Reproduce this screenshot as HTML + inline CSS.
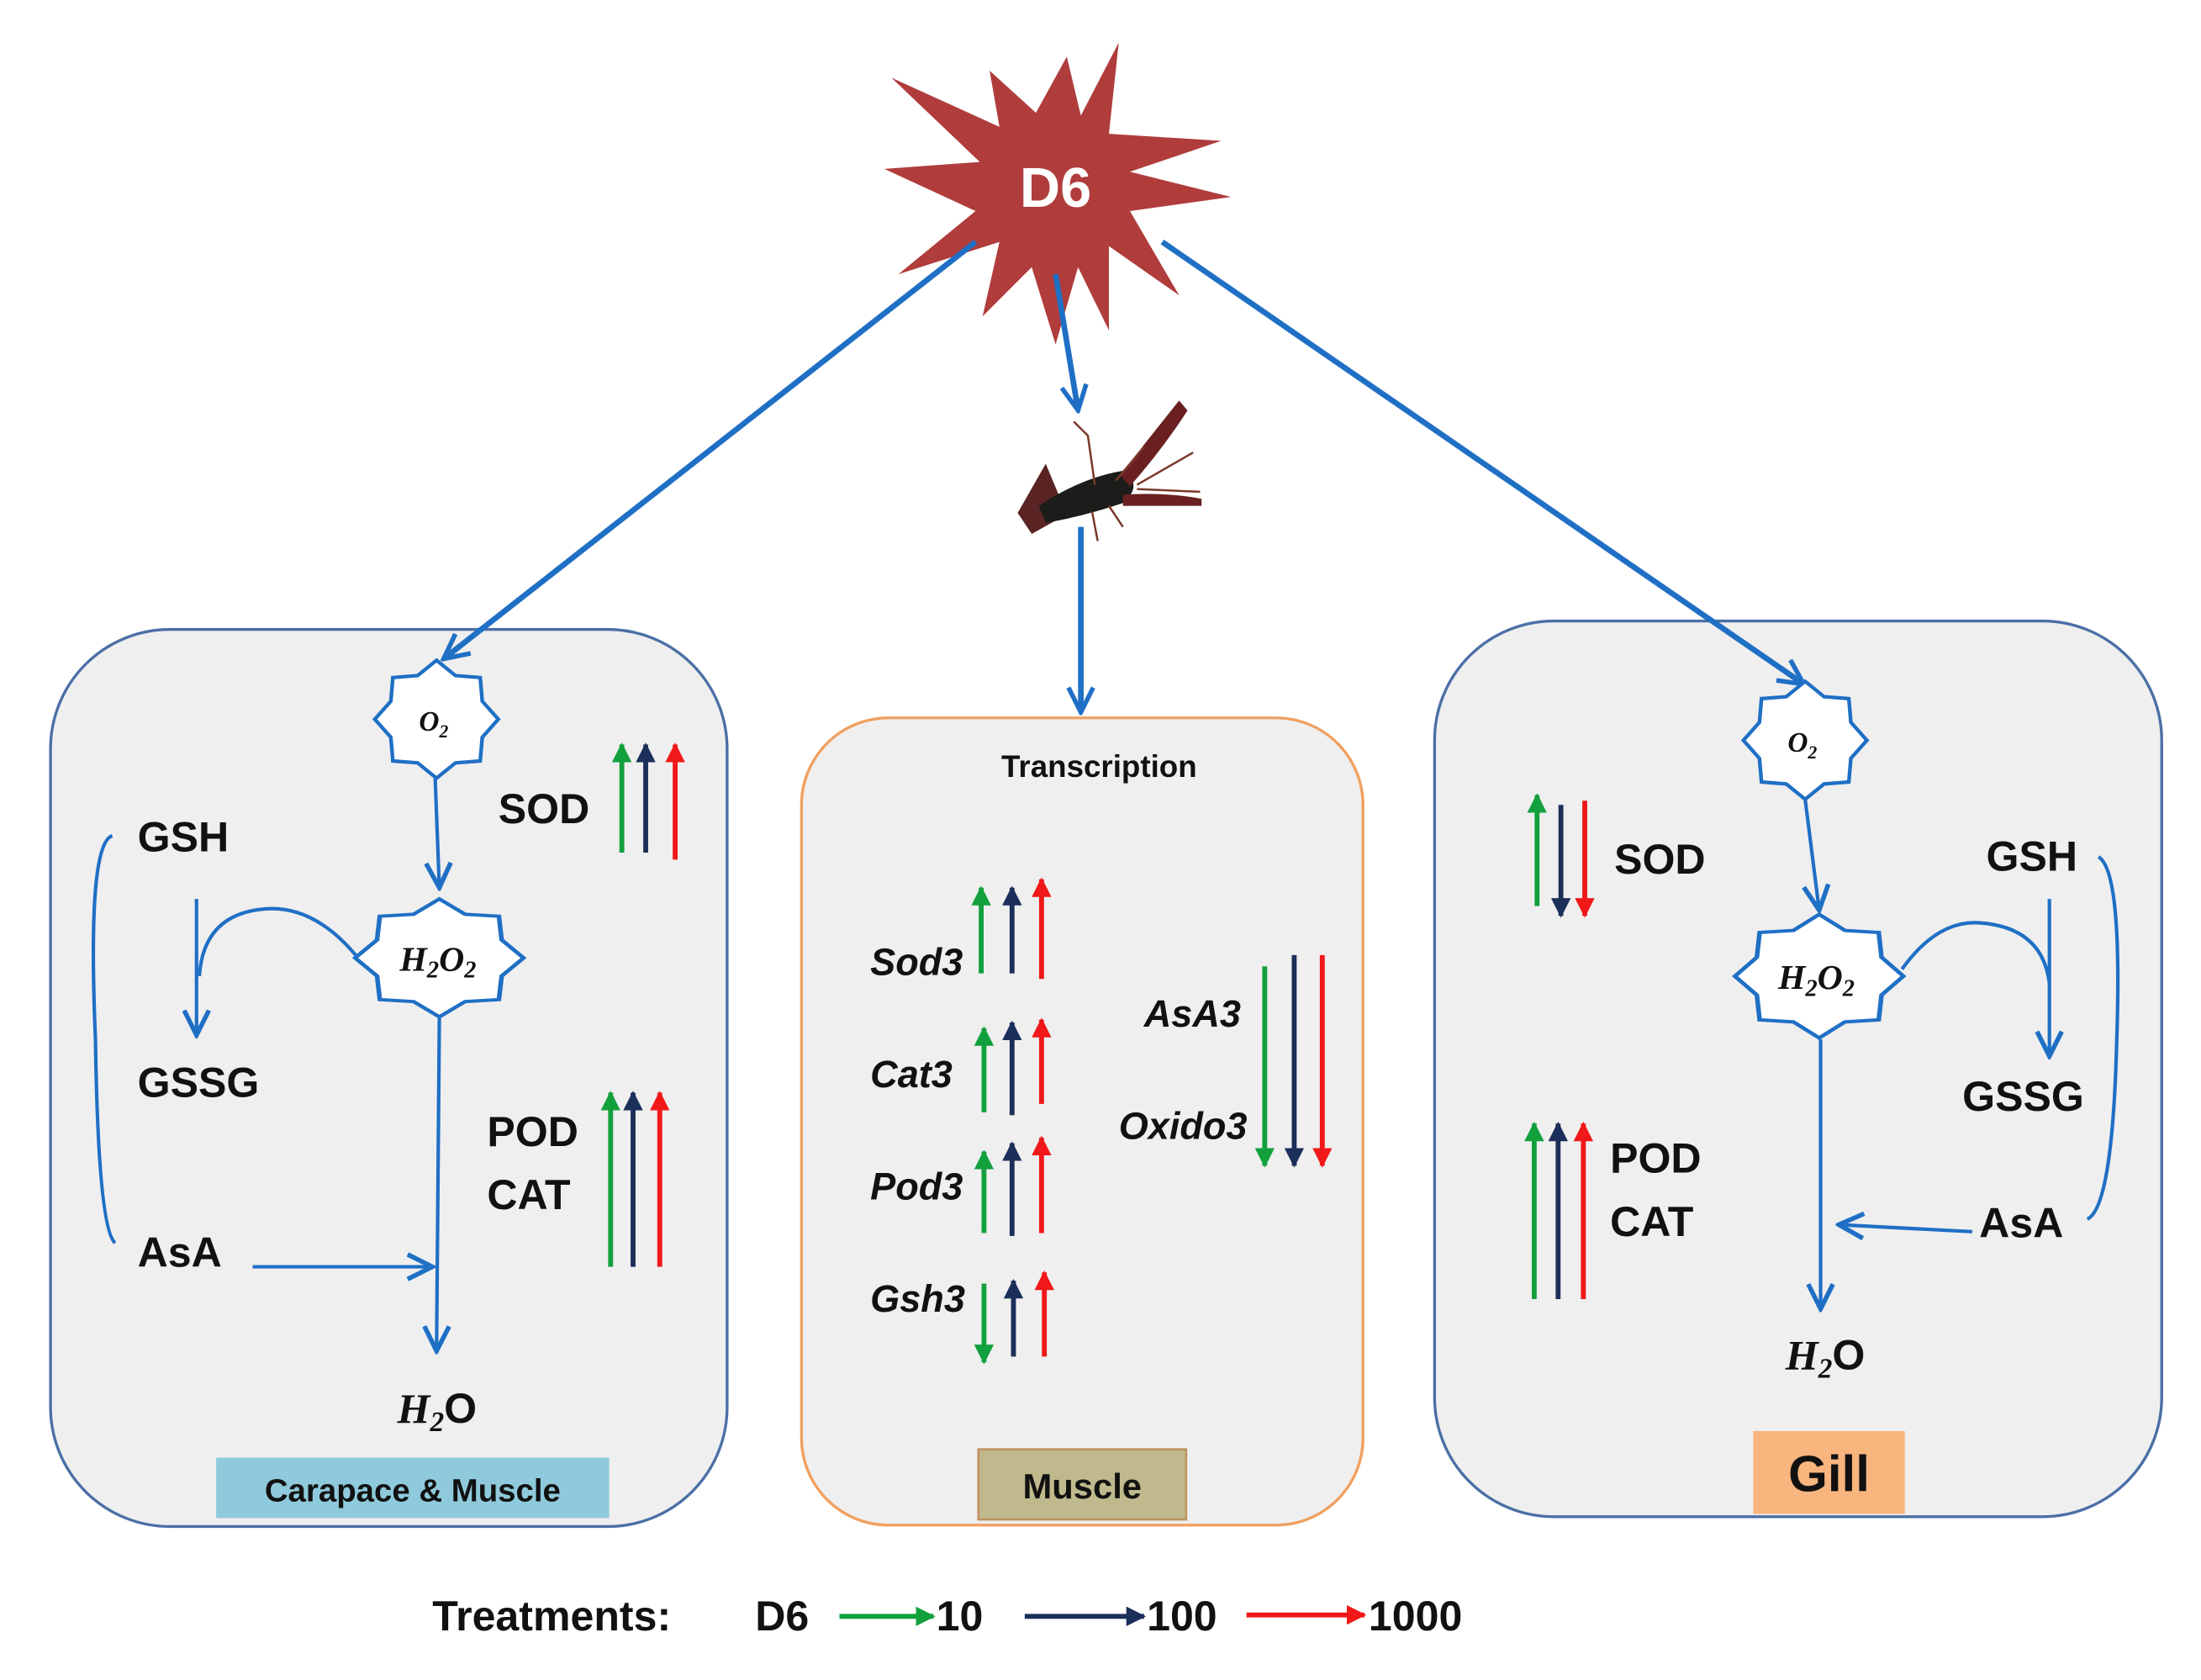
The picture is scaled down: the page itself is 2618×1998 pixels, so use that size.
<!DOCTYPE html>
<html><head><meta charset="utf-8"><style>
html,body{margin:0;padding:0;background:#fff}
svg{display:block}
text{font-family:"Liberation Sans",sans-serif;font-weight:bold;fill:#111}
.m{font-family:"Liberation Serif",serif;font-style:italic;font-weight:bold}
</style></head><body>
<svg width="2618" height="1998" viewBox="0 0 1568 1196" xmlns="http://www.w3.org/2000/svg">
<defs>
<marker id="b" viewBox="0 0 20 20" refX="18" refY="10" markerWidth="22" markerHeight="22" orient="auto" markerUnits="userSpaceOnUse"><path d="M2 2 L18 10 L2 18" fill="none" stroke="#1f6fc5" stroke-width="3"/></marker>
<marker id="g" viewBox="0 0 10 10" refX="9" refY="5" markerWidth="14" markerHeight="14" orient="auto" markerUnits="userSpaceOnUse"><path d="M0 0 L10 5 L0 10 Z" fill="#12a03c"/></marker>
<marker id="n" viewBox="0 0 10 10" refX="9" refY="5" markerWidth="14" markerHeight="14" orient="auto" markerUnits="userSpaceOnUse"><path d="M0 0 L10 5 L0 10 Z" fill="#1b2f5a"/></marker>
<marker id="r" viewBox="0 0 10 10" refX="9" refY="5" markerWidth="14" markerHeight="14" orient="auto" markerUnits="userSpaceOnUse"><path d="M0 0 L10 5 L0 10 Z" fill="#f01818"/></marker>
<polygon id="st" points="1,0 0.74,0.306 0.707,0.707 0.306,0.74 0,1 -0.306,0.74 -0.707,0.707 -0.74,0.306 -1,0 -0.74,-0.306 -0.707,-0.707 -0.306,-0.74 0,-1 0.306,-0.74 0.707,-0.707 0.74,-0.306"/>
</defs>

<rect x="36" y="448" width="482" height="639" rx="85" fill="#efefef" stroke="#4a6fa5" stroke-width="2"/>
<rect x="571" y="511" width="400" height="575" rx="62" fill="#efefef" stroke="#f0a060" stroke-width="2"/>
<rect x="1022" y="442" width="518" height="638" rx="85" fill="#efefef" stroke="#4a6fa5" stroke-width="2"/>

<polygon points="877,140 805,150 840,210 790,175 790,235 768,190 752,245 735,190 700,225 712,172 640,195 695,150 630,120 698,115 635,55 712,90 705,50 738,80 760,40 770,82 797,30 790,95 870,100 805,122" fill="#b03c3c"/>
<text x="752" y="147" font-size="40" text-anchor="middle" style="fill:#fff">D6</text>

<g stroke="#1f6fc5" stroke-width="4" fill="none">
<line x1="695" y1="172" x2="316" y2="469" marker-end="url(#b)"/>
<line x1="828" y1="172" x2="1285" y2="487" marker-end="url(#b)"/>
<line x1="752" y1="195" x2="768" y2="292" marker-end="url(#b)"/>
<line x1="770" y1="375" x2="770" y2="507" marker-end="url(#b)"/>
</g>

<g>
<path d="M745,330 L760,366 L735,380 L725,365 Z" fill="#5a2424"/>
<path d="M740,360 Q770,340 800,335 Q815,345 800,358 Q770,368 745,372 Z" fill="#1c1c1a"/>
<path d="M798,338 Q820,310 840,285 L846,292 Q828,320 805,346 Z" fill="#6a2020"/>
<path d="M800,352 Q830,350 856,355 L856,360 Q828,360 800,360 Z" fill="#6a2020"/>
<g stroke="#7a3a2a" stroke-width="1.5" fill="none">
<path d="M780,345 L775,310 L765,300"/><path d="M795,342 L815,318"/><path d="M790,360 L800,375"/><path d="M778,364 L782,385"/>
<path d="M810,345 L850,322"/><path d="M810,348 L855,350"/>
</g>
</g>

<g fill="#fff" stroke="#1f6fc5">
<use href="#st" transform="translate(311,512) scale(44,42)" style="stroke-width:0.06"/>
<use href="#st" transform="translate(313,682) scale(60,42)" style="stroke-width:0.055"/>
<use href="#st" transform="translate(1286,527) scale(44,42)" style="stroke-width:0.06"/>
<use href="#st" transform="translate(1296,695) scale(60,44)" style="stroke-width:0.055"/>
</g>
<g stroke="#1f6fc5" stroke-width="2.5" fill="none">
<line x1="310" y1="554" x2="313" y2="632" marker-end="url(#b)"/>
<line x1="313" y1="724" x2="311" y2="962" marker-end="url(#b)"/>
<path d="M255,682 Q225,645 190,647 Q145,650 142,695"/>
<line x1="140" y1="640" x2="140" y2="737" marker-end="url(#b)"/>
<path d="M80,595 Q62,600 68,740 Q70,875 82,885"/>
<line x1="180" y1="902" x2="308" y2="902" marker-end="url(#b)"/>
<line x1="1286" y1="569" x2="1296" y2="648" marker-end="url(#b)"/>
<line x1="1297" y1="740" x2="1297" y2="932" marker-end="url(#b)"/>
<path d="M1355,690 Q1380,655 1410,657 Q1455,660 1460,700"/>
<line x1="1460" y1="640" x2="1460" y2="752" marker-end="url(#b)"/>
<path d="M1495,610 Q1512,620 1508,740 Q1505,860 1487,868"/>
<line x1="1405" y1="877" x2="1310" y2="872" marker-end="url(#b)"/>
</g>
<text x="309" y="520" font-size="20" class="m" text-anchor="middle">O<tspan font-size="13" dy="5">2</tspan></text>
<text x="312" y="691" font-size="25" class="m" text-anchor="middle">H<tspan font-size="17" dy="5">2</tspan><tspan dy="-5">O</tspan><tspan font-size="17" dy="5">2</tspan></text>
<text x="1284" y="535" font-size="20" class="m" text-anchor="middle">O<tspan font-size="13" dy="5">2</tspan></text>
<text x="1294" y="704" font-size="25" class="m" text-anchor="middle">H<tspan font-size="17" dy="5">2</tspan><tspan dy="-5">O</tspan><tspan font-size="17" dy="5">2</tspan></text>

<g font-size="30">
<text x="98" y="606">GSH</text>
<text x="98" y="781">GSSG</text>
<text x="98" y="902">AsA</text>
<text x="355" y="586">SOD</text>
<text x="347" y="816">POD</text>
<text x="347" y="861">CAT</text>
<text x="1150" y="622">SOD</text>
<text x="1415" y="620">GSH</text>
<text x="1398" y="791">GSSG</text>
<text x="1147" y="835">POD</text>
<text x="1147" y="880">CAT</text>
<text x="1410" y="881">AsA</text>
</g>
<text x="283" y="1013" font-size="30" class="m">H<tspan font-size="20" dy="6">2</tspan><tspan dy="-6" style="font-family:'Liberation Sans';font-style:normal">O</tspan></text>
<text x="1272" y="975" font-size="30" class="m">H<tspan font-size="20" dy="6">2</tspan><tspan dy="-6" style="font-family:'Liberation Sans';font-style:normal">O</tspan></text>

<rect x="154" y="1038" width="280" height="43" fill="#8ecadb"/>
<text x="294" y="1069" font-size="23" text-anchor="middle">Carapace &amp; Muscle</text>
<rect x="697" y="1032" width="148" height="50" fill="#bfb98d" stroke="#c09060" stroke-width="1.5"/>
<text x="771" y="1067" font-size="25" text-anchor="middle">Muscle</text>
<rect x="1249" y="1019" width="108" height="59" fill="#f8b57e"/>
<text x="1303" y="1062" font-size="36" text-anchor="middle">Gill</text>

<text x="783" y="553" font-size="22" text-anchor="middle">Transcription</text>
<g font-size="27" font-style="italic">
<text x="620" y="694">Sod3</text>
<text x="620" y="774">Cat3</text>
<text x="620" y="854">Pod3</text>
<text x="620" y="934">Gsh3</text>
<text x="815" y="731">AsA3</text>
<text x="797" y="811">Oxido3</text>
</g>

<g stroke-width="3.5">
<line x1="443" y1="607" x2="443" y2="530" stroke="#12a03c" marker-end="url(#g)"/>
<line x1="460" y1="607" x2="460" y2="530" stroke="#1b2f5a" marker-end="url(#n)"/>
<line x1="481" y1="612" x2="481" y2="530" stroke="#f01818" marker-end="url(#r)"/>
<line x1="435" y1="902" x2="435" y2="778" stroke="#12a03c" marker-end="url(#g)"/>
<line x1="451" y1="902" x2="451" y2="778" stroke="#1b2f5a" marker-end="url(#n)"/>
<line x1="470" y1="902" x2="470" y2="778" stroke="#f01818" marker-end="url(#r)"/>

<line x1="699" y1="693" x2="699" y2="632" stroke="#12a03c" marker-end="url(#g)"/>
<line x1="721" y1="693" x2="721" y2="632" stroke="#1b2f5a" marker-end="url(#n)"/>
<line x1="742" y1="697" x2="742" y2="626" stroke="#f01818" marker-end="url(#r)"/>
<line x1="701" y1="792" x2="701" y2="732" stroke="#12a03c" marker-end="url(#g)"/>
<line x1="721" y1="794" x2="721" y2="728" stroke="#1b2f5a" marker-end="url(#n)"/>
<line x1="742" y1="786" x2="742" y2="726" stroke="#f01818" marker-end="url(#r)"/>
<line x1="701" y1="878" x2="701" y2="820" stroke="#12a03c" marker-end="url(#g)"/>
<line x1="721" y1="880" x2="721" y2="814" stroke="#1b2f5a" marker-end="url(#n)"/>
<line x1="742" y1="878" x2="742" y2="810" stroke="#f01818" marker-end="url(#r)"/>
<line x1="701" y1="914" x2="701" y2="970" stroke="#12a03c" marker-end="url(#g)"/>
<line x1="722" y1="966" x2="722" y2="912" stroke="#1b2f5a" marker-end="url(#n)"/>
<line x1="744" y1="966" x2="744" y2="906" stroke="#f01818" marker-end="url(#r)"/>
<line x1="901" y1="688" x2="901" y2="830" stroke="#12a03c" marker-end="url(#g)"/>
<line x1="922" y1="680" x2="922" y2="830" stroke="#1b2f5a" marker-end="url(#n)"/>
<line x1="942" y1="680" x2="942" y2="830" stroke="#f01818" marker-end="url(#r)"/>

<line x1="1095" y1="645" x2="1095" y2="566" stroke="#12a03c" marker-end="url(#g)"/>
<line x1="1112" y1="573" x2="1112" y2="652" stroke="#1b2f5a" marker-end="url(#n)"/>
<line x1="1129" y1="570" x2="1129" y2="652" stroke="#f01818" marker-end="url(#r)"/>
<line x1="1093" y1="925" x2="1093" y2="800" stroke="#12a03c" marker-end="url(#g)"/>
<line x1="1110" y1="925" x2="1110" y2="800" stroke="#1b2f5a" marker-end="url(#n)"/>
<line x1="1128" y1="925" x2="1128" y2="800" stroke="#f01818" marker-end="url(#r)"/>

<line x1="598" y1="1151" x2="665" y2="1151" stroke="#12a03c" marker-end="url(#g)"/>
<line x1="730" y1="1151" x2="815" y2="1151" stroke="#1b2f5a" marker-end="url(#n)"/>
<line x1="888" y1="1150" x2="972" y2="1150" stroke="#f01818" marker-end="url(#r)"/>
</g>

<g font-size="30">
<text x="308" y="1161">Treatments:</text>
<text x="538" y="1161">D6</text>
<text x="667" y="1161">10</text>
<text x="817" y="1161">100</text>
<text x="975" y="1161">1000</text>
</g>
</svg>
</body></html>
